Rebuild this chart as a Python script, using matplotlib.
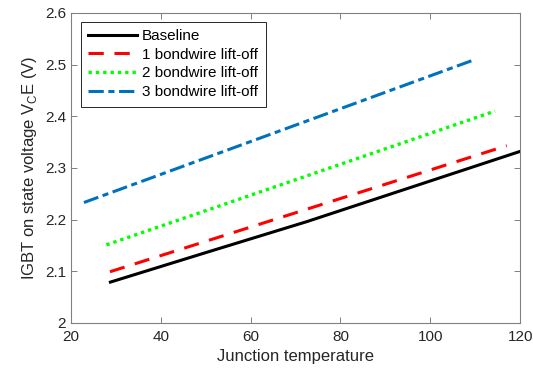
import matplotlib
matplotlib.use("Agg")
import matplotlib.pyplot as plt

# junction temperature (x) and on-state voltage (y)
t_base = [28.8, 50.0, 72.5, 120.0]
v_base = [2.079, 2.136, 2.196, 2.332]

t_bw1 = [28.7, 117.0]
v_bw1 = [2.099, 2.343]

t_bw2 = [27.9, 114.4]
v_bw2 = [2.151, 2.410]

t_bw3 = [22.9, 110.0]
v_bw3 = [2.233, 2.510]

labels = ["Baseline", "1 bondwire lift-off", "2 bondwire lift-off", "3 bondwire lift-off"]
xticks = [20, 40, 60, 80, 100, 120]
yticks = [2.0, 2.1, 2.2, 2.3, 2.4, 2.5, 2.6]

plt.rcParams["font.family"] = ["Liberation Sans", "DejaVu Sans"]

fig = plt.figure(figsize=(5.33, 3.79), dpi=100)
ax = fig.add_axes([0.133, 0.148, 0.843, 0.818])

ax.plot(t_base, v_base, color="black", lw=2.2, label=labels[0])
ax.plot(t_bw1, v_bw1, color="red", lw=2.2, dashes=(5, 3.5), label=labels[1])
ax.plot(t_bw2, v_bw2, color="#00ff00", lw=2.4, linestyle=(0, (1, 1.2)), label=labels[2])
ax.plot(t_bw3, v_bw3, color="#0072bd", lw=2.2, linestyle=(0, (5, 1.5, 2, 1.5)), label=labels[3])

ax.set_xlim(20, 120)
ax.set_ylim(2.0, 2.6)
ax.set_xticks(xticks)
ax.set_yticks(yticks)
ax.set_yticklabels(["2", "2.1", "2.2", "2.3", "2.4", "2.5", "2.6"])

grey = "#262626"
for s in ax.spines.values():
    s.set_color("#808080")
    s.set_linewidth(0.8)
ax.tick_params(direction="in", top=True, right=True, length=4, width=0.7,
               color="#808080", labelsize=11, labelcolor=grey)
ax.tick_params(axis="x", pad=5)

ax.set_xlabel("Junction temperature", fontsize=12, color=grey)
ax.set_ylabel("IGBT on state voltage V$_\\mathregular{C}$E (V)", fontsize=12, color=grey)

leg = ax.legend(loc="upper left", bbox_to_anchor=(0.022, 0.972), fontsize=11,
                fancybox=False, framealpha=1, handlelength=3.2, handletextpad=0.3,
                labelspacing=0.3, borderpad=0.5, borderaxespad=0)
leg.get_frame().set_edgecolor("#262626")
leg.get_frame().set_linewidth(0.7)

fig.savefig("out.png", dpi=100)
